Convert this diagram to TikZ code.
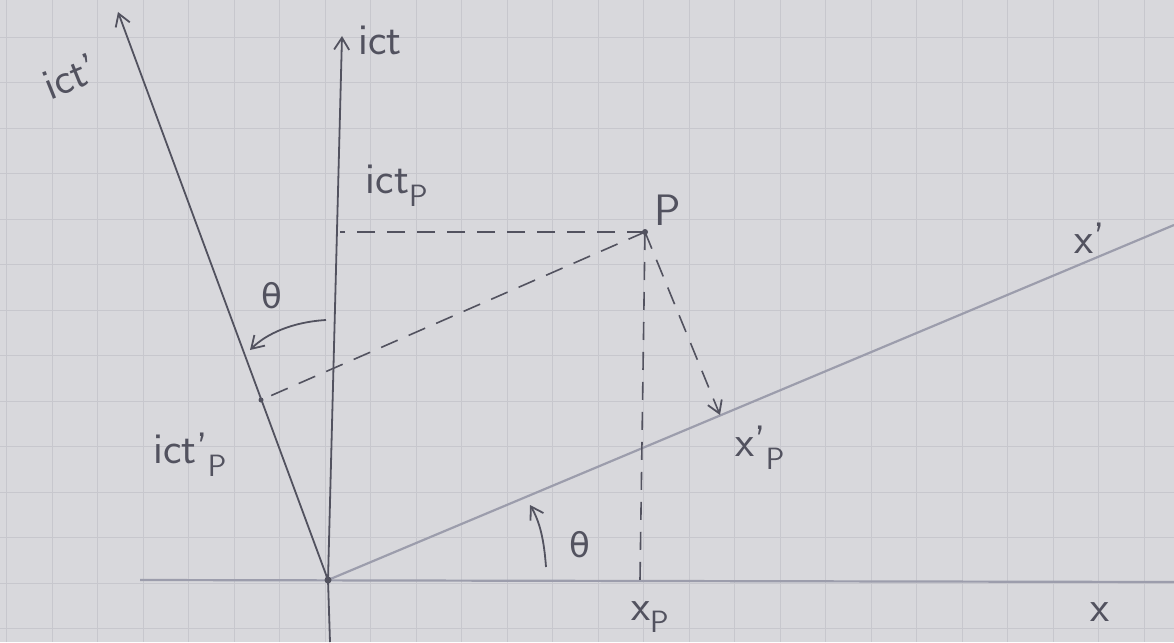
\documentclass[tikz,border=0pt]{standalone}
\usepackage{fontspec}
\newfontfamily\grk{DejaVu Sans}
\usetikzlibrary{arrows.meta}
\definecolor{ink}{HTML}{52525F}
\definecolor{inklight}{HTML}{9C9DAC}
\definecolor{paper}{HTML}{D8D8DC}
\definecolor{gridc}{HTML}{C7C7CD}
\begin{document}
\begin{tikzpicture}[x=1pt,y=-1pt,
  ax/.style={draw=ink, line width=1.8pt},
  lightax/.style={draw=inklight, line width=2.2pt},
  dsh/.style={draw=ink, line width=1.6pt, dash pattern=on 18pt off 12pt},
  lbl/.style={text=ink, font=\sffamily\fontsize{44}{50}\selectfont, inner sep=0pt},
  th/.style={text=ink, font=\grk\fontsize{34}{40}\selectfont, inner sep=0pt},
  tip/.style={-{Straight Barb[length=12pt,width=15pt,line width=1.8pt]}}]
\useasboundingbox (0,0) rectangle (1174,642);
\begin{scope}
\clip (0,0) rectangle (1174,642);
\fill[paper] (0,0) rectangle (1174,642);
\foreach \i in {0,...,25} \draw[gridc, line width=0.9pt] ({6.5+45.5*\i},0) -- ++(0,642);
\foreach \j in {0,...,13} \draw[gridc, line width=0.9pt] (0,{37+45.5*\j}) -- ++(1174,0);
\end{scope}
% points
\coordinate (O) at (328,580);
\coordinate (ctbot) at (330,642);
\coordinate (cttop) at (342,36);
\coordinate (ctptop) at (118,12);
\coordinate (xl) at (140,580);
\coordinate (xr) at (1174,582);
\coordinate (xpr) at (1174,225);
\coordinate (P) at (645,232);
\coordinate (A) at (340,232);
\coordinate (B) at (640,580);
\coordinate (C) at (261,400);
\coordinate (D) at (720,415);
% axes
\draw[lightax] (xl) -- (xr);
\draw[lightax] (O) -- (xpr);
\draw[ax] (ctbot) -- (O);
\draw[ax, tip] (O) -- (cttop);
\draw[ax, tip] (O) -- (ctptop);
\fill[ink] (O) circle (3.5pt);
% projections
\draw[dsh] (P) -- (A);
\draw[dsh] (P) -- (B);
\draw[dsh] (P) -- (C);
\draw[dsh, tip] (P) -- (D);
\fill[ink] (P) circle (3pt);
\fill[ink] (C) circle (2.5pt);
% angle arrows
\coordinate (t1s) at (326,320);
\coordinate (t1e) at (250,350);
\draw[ax, tip] (t1s) .. controls (292,322) and (266,334) .. (t1e);
\coordinate (t2s) at (546,567);
\coordinate (t2e) at (530,505);
\draw[ax, tip] (t2s) .. controls (544,540) and (540,522) .. (t2e);
% labels
\node[lbl] (lct) at (380,40) {ict};
\node[lbl, rotate=22] (lctp) at (70,76) {ict'};
\node[lbl] (lctP) at (397,186) {ict\textsubscript{P}};
\node[lbl] (lP) at (668,210) {P};
\node[lbl] (lxp) at (1090,238) {x'};
\node[th] (lth1) at (272,296) {θ};
\node[lbl] (lctpP) at (190,455) {ict'\textsubscript{P}};
\node[lbl] (lxpP) at (760,448) {x'\textsubscript{P}};
\node[th] (lth2) at (580,545) {θ};
\node[lbl] (lxP) at (650,617) {x\textsubscript{P}};
\node[lbl] (lx) at (1100,612) {x};
\end{tikzpicture}
\end{document}
